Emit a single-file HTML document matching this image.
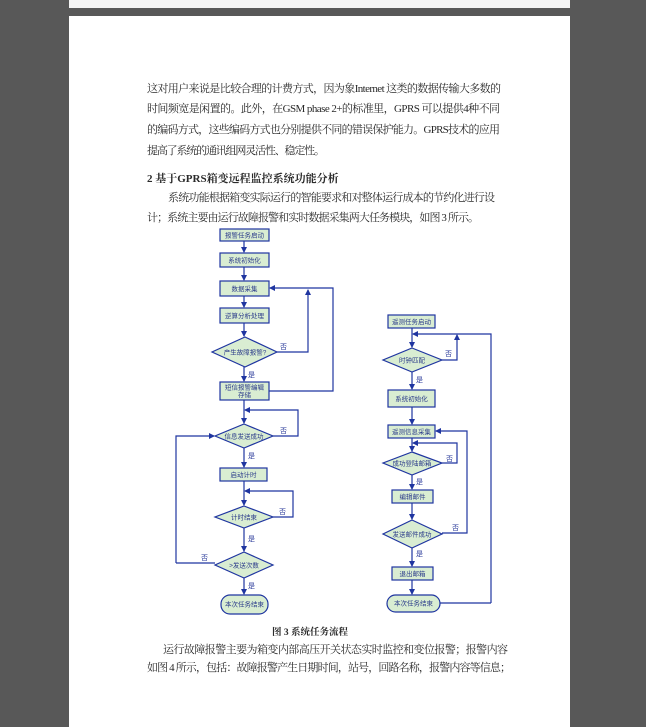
<!DOCTYPE html>
<html><head><meta charset="utf-8"><style>
html,body{margin:0;padding:0;background:#585858;}
svg{display:block;}
.t{font-family:"Liberation Serif","Noto Serif CJK SC","Noto Sans CJK SC",serif;font-size:11px;fill:#2a2a2a;}
.b{font-weight:bold;}
.n{font-family:"Liberation Sans","Noto Sans CJK SC",sans-serif;font-size:6.5px;fill:#2a3a8a;text-anchor:middle;}
.y{font-family:"Liberation Sans","Noto Sans CJK SC",sans-serif;font-size:7px;fill:#2a3a9a;}
.bx{fill:#d9edd2;stroke:#1f35a0;stroke-width:1.2;}
.ln{fill:none;stroke:#1f35a0;stroke-width:1.2;}
</style></head><body>
<svg width="646" height="727" viewBox="0 0 646 727" xmlns="http://www.w3.org/2000/svg">
<defs><marker id="a" markerWidth="6" markerHeight="6" refX="5" refY="3" orient="auto" markerUnits="userSpaceOnUse"><path d="M0,0 L6,3 L0,6 z" fill="#1f35a0"/></marker></defs>
<rect x="0" y="0" width="646" height="727" fill="#585858"/>
<rect x="69" y="0" width="501" height="8" fill="#f4f4f4"/>
<rect x="69" y="16" width="501" height="711" fill="#ffffff"/>

<text class="t" x="147" y="92" textLength="354" lengthAdjust="spacing">这对用户来说是比较合理的计费方式，因为象Internet 这类的数据传输大多数的</text>
<text class="t" x="147" y="112" textLength="353" lengthAdjust="spacing">时间频宽是闲置的。此外，在GSM phase 2+的标准里，GPRS 可以提供4种不同</text>
<text class="t" x="147" y="133" textLength="353" lengthAdjust="spacing">的编码方式，这些编码方式也分别提供不同的错误保护能力。GPRS技术的应用</text>
<text class="t" x="147" y="154" textLength="178" lengthAdjust="spacing">提高了系统的通讯组网灵活性、稳定性。</text>
<text class="t b" x="147" y="182">2  基于GPRS箱变远程监控系统功能分析</text>
<text class="t" x="168" y="201" textLength="327" lengthAdjust="spacing">系统功能根据箱变实际运行的智能要求和对整体运行成本的节约化进行设</text>
<text class="t" x="147" y="221" textLength="332" lengthAdjust="spacing">计；系统主要由运行故障报警和实时数据采集两大任务模块，如图 3 所示。</text>

<g>
<rect class="bx" x="220" y="229" width="49" height="12"/><text class="n" x="244.5" y="237.5">报警任务启动</text>
<path class="ln" d="M244,241 V252" marker-end="url(#a)"/>
<rect class="bx" x="220" y="253" width="49" height="14"/><text class="n" x="244.5" y="262.5">系统初始化</text>
<path class="ln" d="M244,267 V280" marker-end="url(#a)"/>
<rect class="bx" x="220" y="281" width="49" height="15"/><text class="n" x="244.5" y="291">数据采集</text>
<path class="ln" d="M244,296 V307" marker-end="url(#a)"/>
<rect class="bx" x="220" y="308" width="49" height="15"/><text class="n" x="244.5" y="318">逆算分析处理</text>
<path class="ln" d="M244,323 V336" marker-end="url(#a)"/>
<polygon class="bx" points="245,337 277,352 245,367 212,352"/><text class="n" x="245" y="354.5">产生故障报警?</text>
<path class="ln" d="M277,352 H308 V290" marker-end="url(#a)"/>
<text class="y" x="280" y="349">否</text>
<path class="ln" d="M244,367 V381" marker-end="url(#a)"/>
<text class="y" x="248" y="377">是</text>
<rect class="bx" x="220" y="382" width="49" height="18"/><text class="n" x="244.5" y="389.5">短信报警编辑</text><text class="n" x="244.5" y="397">存储</text>
<path class="ln" d="M269,391 H333 V288 H270" marker-end="url(#a)"/>
<path class="ln" d="M244,400 V423" marker-end="url(#a)"/>
<path class="ln" d="M273,436 H298 V410 H245" marker-end="url(#a)"/>
<text class="y" x="280" y="433">否</text>
<polygon class="bx" points="244,424 273,436 244,448 215,436"/><text class="n" x="244" y="438.5">信息发送成功</text>
<path class="ln" d="M176,563 V436 H214" marker-end="url(#a)"/>
<path class="ln" d="M244,448 V467" marker-end="url(#a)"/>
<text class="y" x="248" y="458">是</text>
<rect class="bx" x="220" y="468" width="47" height="13"/><text class="n" x="243.5" y="477">启动计时</text>
<path class="ln" d="M244,481 V505" marker-end="url(#a)"/>
<path class="ln" d="M273,517 H293 V491 H245" marker-end="url(#a)"/>
<text class="y" x="279" y="514">否</text>
<polygon class="bx" points="244,506 273,517 244,528 215,517"/><text class="n" x="244" y="519.5">计时结束</text>
<path class="ln" d="M244,528 V551" marker-end="url(#a)"/>
<text class="y" x="248" y="541">是</text>
<polygon class="bx" points="244,552 273,565 244,578 215,565"/><text class="n" x="244" y="567.5">&gt;发送次数</text>
<path class="ln" d="M215,563 H176"/>
<text class="y" x="201" y="560">否</text>
<path class="ln" d="M244,578 V594" marker-end="url(#a)"/>
<text class="y" x="248" y="588">是</text>
<rect class="bx" x="221" y="595" width="47" height="19" rx="9"/><text class="n" x="244.5" y="606.5">本次任务结束</text>
</g>

<g>
<rect class="bx" x="388" y="315" width="47" height="13"/><text class="n" x="411.5" y="324">遥测任务启动</text>
<path class="ln" d="M412,328 V347" marker-end="url(#a)"/>
<path class="ln" d="M491,603 V334 H413" marker-end="url(#a)"/>
<polygon class="bx" points="412,348 442,360 412,372 383,360"/><text class="n" x="412" y="362.5">时钟匹配</text>
<path class="ln" d="M442,360 H457 V335" marker-end="url(#a)"/>
<text class="y" x="445" y="356">否</text>
<path class="ln" d="M412,372 V389" marker-end="url(#a)"/>
<text class="y" x="416" y="382">是</text>
<rect class="bx" x="388" y="390" width="47" height="17"/><text class="n" x="411.5" y="401">系统初始化</text>
<path class="ln" d="M412,407 V424" marker-end="url(#a)"/>
<rect class="bx" x="388" y="425" width="47" height="13"/><text class="n" x="411.5" y="434">遥测信息采集</text>
<path class="ln" d="M412,438 V451" marker-end="url(#a)"/>
<path class="ln" d="M442,463 H457 V443 H413" marker-end="url(#a)"/>
<text class="y" x="446" y="461">否</text>
<polygon class="bx" points="412,452 442,463 412,475 383,463"/><text class="n" x="412" y="465.5">成功登陆邮箱</text>
<path class="ln" d="M412,475 V489" marker-end="url(#a)"/>
<text class="y" x="416" y="484">是</text>
<rect class="bx" x="392" y="490" width="41" height="13"/><text class="n" x="412.5" y="499">编辑邮件</text>
<path class="ln" d="M412,503 V519" marker-end="url(#a)"/>
<path class="ln" d="M442,533 H467 V431 H436" marker-end="url(#a)"/>
<text class="y" x="452" y="530">否</text>
<polygon class="bx" points="412,520 442,534 412,548 383,534"/><text class="n" x="412" y="536.5">发送邮件成功</text>
<path class="ln" d="M412,548 V566" marker-end="url(#a)"/>
<text class="y" x="416" y="556">是</text>
<rect class="bx" x="392" y="567" width="41" height="13"/><text class="n" x="412.5" y="576">退出邮箱</text>
<path class="ln" d="M412,580 V594" marker-end="url(#a)"/>
<rect class="bx" x="387" y="595" width="53" height="17" rx="8.5"/><text class="n" x="413.5" y="605.5">本次任务结束</text>
<path class="ln" d="M440,603 H491"/>
</g>

<text class="t b" x="272" y="635" style="font-size:9.5px">图 3 系统任务流程</text>
<text class="t" x="163" y="653" textLength="345" lengthAdjust="spacing">运行故障报警主要为箱变内部高压开关状态实时监控和变位报警；报警内容</text>
<text class="t" x="147" y="671" textLength="364" lengthAdjust="spacing">如图 4 所示，包括：故障报警产生日期时间，站号，回路名称，报警内容等信息；</text>
</svg>
</body></html>
